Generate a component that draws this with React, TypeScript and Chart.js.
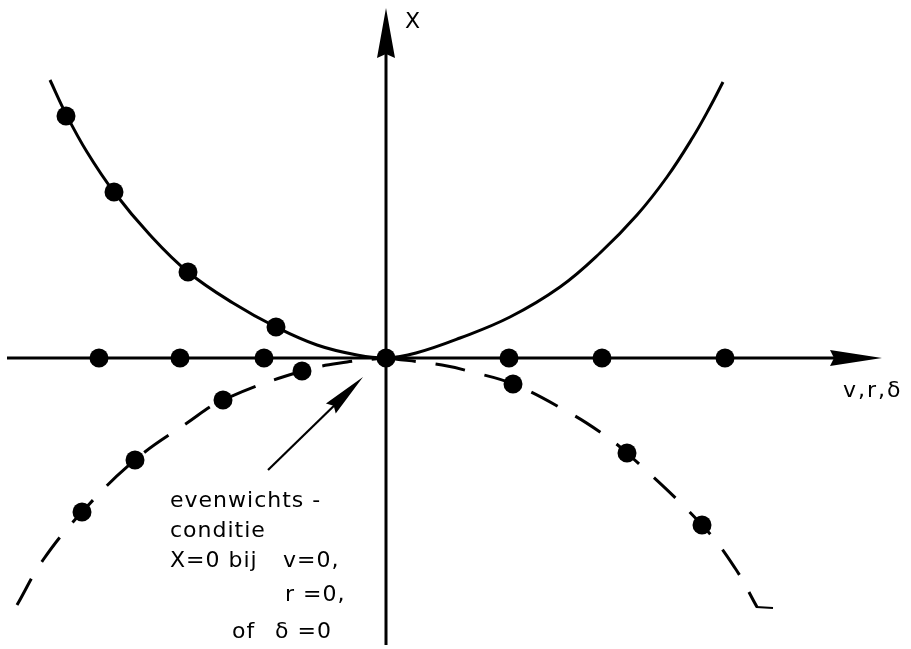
import { useEffect, useRef } from "react";
import { Chart, registerables } from "chart.js";

Chart.register(...registerables);

// ---- data (abstract units) ----
const solidCurveX = [-3.36, -3.2, -2.99, -2.72, -2.36, -1.98, -1.53, -1.1, -0.69, -0.29, 0, 0.3, 0.74, 1.24, 1.74, 2.14, 2.51, 2.81, 3.07, 3.24, 3.37];
const solidCurveY = [2.78, 2.44, 2.06, 1.66, 1.23, 0.86, 0.55, 0.31, 0.13, 0.03, 0, 0.05, 0.2, 0.41, 0.71, 1.05, 1.43, 1.81, 2.21, 2.51, 2.76];

const solidMarkX = [-3.2, -2.72, -1.98, -1.1];
const solidMarkY = [2.42, 1.66, 0.86, 0.31];

const axisMarkX = [-2.87, -2.06, -1.22, 0, 1.23, 2.16, 3.39];
const axisMarkY = [0, 0, 0, 0, 0, 0, 0];

const dashedLeftX = [-3.69, -3.43, -3.04, -2.51, -1.99, -1.63, -0.84, -0.39, 0];
const dashedLeftY = [-2.47, -2.02, -1.54, -1.02, -0.65, -0.42, -0.13, -0.04, 0];

const dashedRightX = [0, 0.56, 0.86, 1.27, 1.82, 2.14, 2.41, 3.16, 3.49, 3.71];
const dashedRightY = [0, -0.07, -0.14, -0.26, -0.54, -0.74, -0.95, -1.67, -2.1, -2.49];

const dashedMarkX = [-3.04, -2.51, -1.63, -0.84, 1.27, 2.41, 3.16];
const dashedMarkY = [-1.54, -1.02, -0.42, -0.13, -0.26, -0.95, -1.67];

const endTickX = [3.7, 3.87];
const endTickY = [-2.49, -2.5];

const xAxisRange = [-3.79, 4.96];
const yAxisRange = [-2.87, 3.5];

const axisLabelY = "X";
const axisLabelX = "v,r,δ";

// annotation: arrow from tail to tip, and the text lines [text, x, y]
const noteArrow = [[-1.18, -1.12], [-0.23, -0.19]];
const noteLines: [string, number, number][] = [
  ["evenwichts -", -2.16, -1.49],
  ["conditie", -2.16, -1.79],
  ["X=0 bij", -2.16, -2.09],
  ["v=0,", -1.03, -2.09],
  ["r =0,", -1.01, -2.43],
  ["of", -1.54, -2.8],
  ["δ =0", -1.11, -2.8],
];

const pts = (xs: number[], ys: number[]) => xs.map((x, i) => ({ x, y: ys[i] }));

const FONT = '22px "DejaVu Sans"';

function arrowHead(ctx: CanvasRenderingContext2D, tx: number, ty: number, fx: number, fy: number, len: number, half: number) {
  const dx = tx - fx;
  const dy = ty - fy;
  const d = Math.hypot(dx, dy);
  const ux = dx / d;
  const uy = dy / d;
  const bx = tx - ux * len;
  const by = ty - uy * len;
  const nx = -uy;
  const ny = ux;
  ctx.beginPath();
  ctx.moveTo(tx, ty);
  ctx.lineTo(bx + nx * half, by + ny * half);
  ctx.lineTo(bx + ux * 4, by + uy * 4);
  ctx.lineTo(bx - nx * half, by - ny * half);
  ctx.closePath();
  ctx.fill();
}

const figurePlugin = {
  id: "figure",
  beforeDatasetsDraw(chart: any) {
    const { ctx } = chart;
    const xs = chart.scales.x;
    const ys = chart.scales.y;
    const x0 = xs.getPixelForValue(0);
    const y0 = ys.getPixelForValue(0);
    ctx.save();
    ctx.strokeStyle = "#000";
    ctx.fillStyle = "#000";
    ctx.lineWidth = 3;
    // horizontal axis
    const xa = xs.getPixelForValue(xAxisRange[0]);
    const xb = xs.getPixelForValue(xAxisRange[1]);
    ctx.beginPath();
    ctx.moveTo(xa, y0);
    ctx.lineTo(xb - 20, y0);
    ctx.stroke();
    arrowHead(ctx, xb, y0, xa, y0, 52, 8);
    // vertical axis
    const ya = ys.getPixelForValue(yAxisRange[0]);
    const yb = ys.getPixelForValue(yAxisRange[1]);
    ctx.beginPath();
    ctx.moveTo(x0, ya);
    ctx.lineTo(x0, yb + 20);
    ctx.stroke();
    arrowHead(ctx, x0, yb, x0, ya, 50, 9);
    ctx.restore();
  },
  afterDatasetsDraw(chart: any) {
    const { ctx } = chart;
    const xs = chart.scales.x;
    const ys = chart.scales.y;
    const px = (v: number) => xs.getPixelForValue(v);
    const py = (v: number) => ys.getPixelForValue(v);
    ctx.save();
    ctx.fillStyle = "#000";
    ctx.strokeStyle = "#000";
    // annotation arrow
    const [t, h] = noteArrow;
    ctx.lineWidth = 2.2;
    ctx.beginPath();
    ctx.moveTo(px(t[0]), py(t[1]));
    ctx.lineTo(px(h[0]) - 20, py(h[1]) + 20);
    ctx.stroke();
    arrowHead(ctx, px(h[0]), py(h[1]), px(t[0]), py(t[1]), 45, 7);
    // texts
    ctx.font = FONT;
    (ctx as any).letterSpacing = "1px";
    ctx.textAlign = "left";
    ctx.textBaseline = "alphabetic";
    for (const [s, x, y] of noteLines) ctx.fillText(s, px(x), py(y));
    ctx.fillText(axisLabelY, px(0.19), py(3.3));
    (ctx as any).letterSpacing = "2px";
    ctx.fillText(axisLabelX, px(4.57), py(-0.39));
    ctx.restore();
  },
};

export default function App() {
  const ref = useRef<HTMLCanvasElement>(null);
  useEffect(() => {
    if (!ref.current) return;
    const lineDs = (data: any[], dash: number[] = []) => ({
      data,
      showLine: true,
      borderColor: "#000",
      borderWidth: 3,
      borderDash: dash,
      pointRadius: 0,
      tension: 0.4,
      fill: false,
    });
    const markDs = (data: any[]) => ({
      data,
      showLine: false,
      pointRadius: 9.5,
      pointBackgroundColor: "#000",
      pointBorderColor: "#000",
      pointBorderWidth: 0,
    });
    const chart = new Chart(ref.current, {
      type: "scatter",
      data: {
        datasets: [
          lineDs(pts(solidCurveX, solidCurveY)),
          lineDs(pts(dashedLeftX, dashedLeftY), [30, 20]),
          lineDs(pts(dashedRightX, dashedRightY), [30, 20]),
          { ...lineDs(pts(endTickX, endTickY)), borderWidth: 2, tension: 0 },
          markDs(pts(solidMarkX, solidMarkY)),
          markDs(pts(dashedMarkX, dashedMarkY)),
          markDs(pts(axisMarkX, axisMarkY)),
        ],
      },
      options: {
        responsive: false,
        animation: false,
        layout: { padding: 0, autoPadding: false },
        plugins: { legend: { display: false }, tooltip: { enabled: false } },
        scales: {
          x: { type: "linear", min: -3.86, max: 5.25, display: false },
          y: { type: "linear", min: -2.91, max: 3.58, display: false },
        },
      },
      plugins: [figurePlugin],
    });
    return () => chart.destroy();
  }, []);
  return (
    <div style={{ position: "fixed", left: 0, top: 0, width: 911, height: 649, background: "#fff" }}>
      <canvas ref={ref} width={911} height={649} />
    </div>
  );
}
